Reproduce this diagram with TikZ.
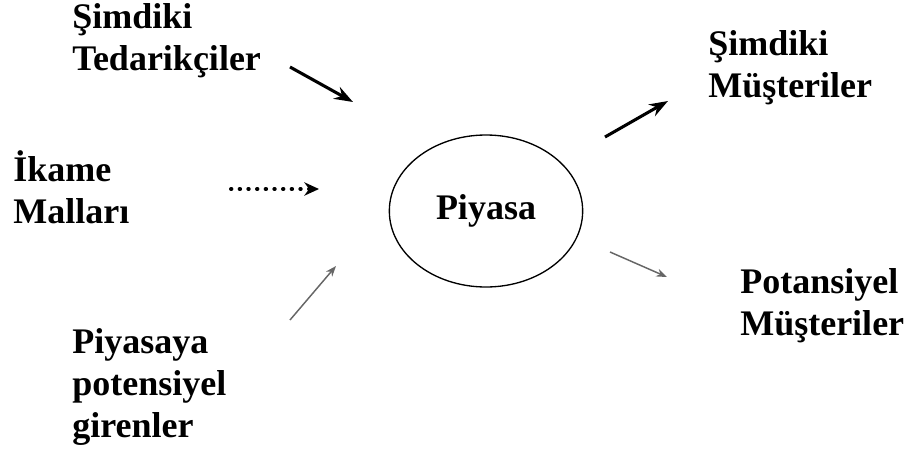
\documentclass[tikz,border=0pt]{standalone}
\usepackage{fontspec}
\setmainfont{Liberation Serif}
\usetikzlibrary{arrows.meta,positioning,shapes.geometric}

\begin{document}
\begin{tikzpicture}[x=0.75pt,y=-0.75pt,font=\fontsize{27}{31.5}\selectfont\bfseries]
\tikzstyle{actor}=[align=left,inner sep=0pt,anchor=base west]
  \tikzstyle{strong}=[-{Stealth[length=14pt,width=10pt]},line width=2.3pt]
  \tikzstyle{weak}=[-{Stealth[length=8pt,width=6pt]},line width=1.1pt,black!60]
  \tikzstyle{dots}=[-{Stealth[length=11pt,width=10pt]},line width=3pt,dash pattern=on 0.3pt off 6.2pt,line cap=round]
%
\useasboundingbox (0,0) rectangle (907,454);
%
\node[ellipse,draw,line width=1pt,minimum width=145pt,minimum height=114pt,inner sep=0pt] (piyasa) at (486,211) {Piyasa};
  % anchor is the baseline of the last line
  \node[actor] (tedarik) at (72,70) {Şimdiki\\Tedarikçiler};
  \node[actor] (ikame) at (13,223) {İkame\\Malları};
  \node[actor] (giren) at (72,437) {Piyasaya\\potensiyel\\girenler};
  \node[actor] (musteri) at (708,97) {Şimdiki\\Müşteriler};
  \node[actor] (potmus) at (740,335) {Potansiyel\\Müşteriler};
%
  \coordinate (t0) at (290,67);  \coordinate (t1) at (353,102);
  \coordinate (i0) at (231,189); \coordinate (i1) at (319,189);
  \coordinate (g0) at (290,320); \coordinate (g1) at (336,266);
  \coordinate (m0) at (605,137); \coordinate (m1) at (668,101);
  \coordinate (p0) at (610,252); \coordinate (p1) at (667,277);
%
  \draw[strong] (t0) -- (t1);
  \draw[dots] (i0) -- (i1);
  \draw[weak] (g0) -- (g1);
  \draw[strong] (m0) -- (m1);
  \draw[weak] (p0) -- (p1);
\end{tikzpicture}
\end{document}
